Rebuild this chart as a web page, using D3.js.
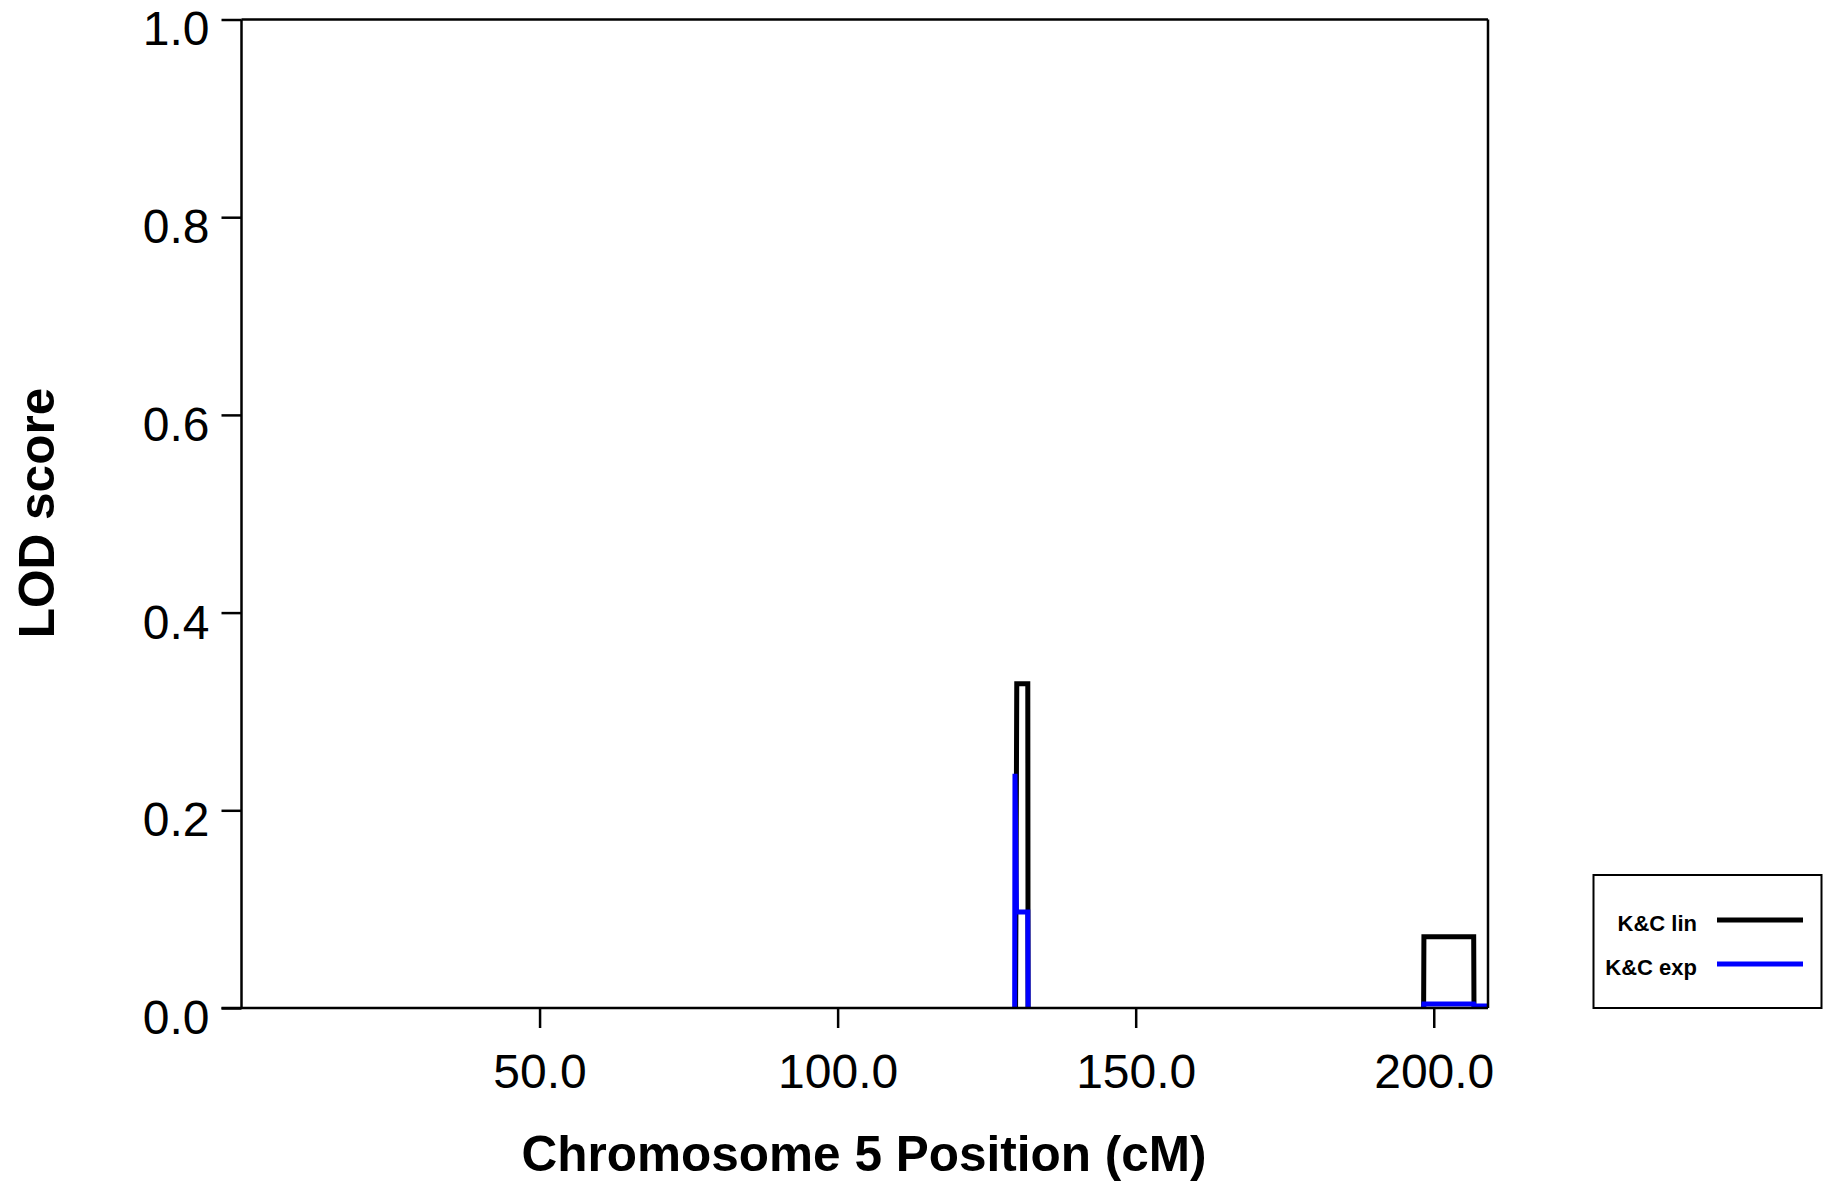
<!DOCTYPE html>
<html><head><meta charset="utf-8">
<script src="https://cdn.jsdelivr.net/npm/d3@7"></script>
<style>body{margin:0;background:#fff}svg{display:block}text{font-family:"Liberation Sans",Arial,sans-serif}</style>
</head><body>
<script>
// Data
const xTicks = [50, 100, 150, 200];
const yTicks = [0, 0.2, 0.4, 0.6, 0.8, 1.0];
const seriesNames = ["K&C lin", "K&C exp"];
const seriesColors = ["#000000", "#0000ff"];
const linPos = [0, 129.85, 130.05, 131.9, 131.95, 198.3, 198.35, 206.7, 206.75, 209.1];
const linLod = [0, 0, 0.328, 0.328, 0, 0, 0.072, 0.072, 0, 0];
const expPos = [0, 129.7, 129.75, 130.0, 131.9, 131.95, 198.3, 198.35, 206.7, 206.8, 209.1];
const expLod = [0, 0, 0.237, 0.097, 0.097, 0, 0, 0.004, 0.004, 0.002, 0.002];

const W = 1830, H = 1184;
const L = 241.5, R = 1488, T = 19.5, B = 1008;
const x = d3.scaleLinear().domain([0, 209.1]).range([L, R]);
const y = d3.scaleLinear().domain([0, 1]).range([B, T]);

const svg = d3.select("body").append("svg").attr("width", W).attr("height", H);

const line = d3.line().x(d => x(d[0])).y(d => y(d[1]));
// split each series into runs, skipping flat segments lying on the zero baseline (hidden by the axis)
function runs(pos, lod) {
  const out = []; let cur = null;
  for (let i = 0; i < pos.length - 1; i++) {
    const flatZero = lod[i] === 0 && lod[i + 1] === 0;
    if (flatZero) { if (cur) { out.push(cur); cur = null; } continue; }
    if (!cur) cur = [[pos[i], lod[i]]];
    cur.push([pos[i + 1], lod[i + 1]]);
  }
  if (cur) out.push(cur);
  return out;
}
const series = [runs(linPos, linLod), runs(expPos, expLod)];
series.forEach((rs, i) => {
  rs.forEach(r => {
    svg.append("path").datum(r).attr("d", line)
      .attr("fill", "none").attr("stroke", seriesColors[i])
      .attr("stroke-width", 5).attr("stroke-linejoin", "miter");
  });
});

// frame
svg.append("line").attr("x1", L).attr("x2", R).attr("y1", T).attr("y2", T).attr("stroke", "#000").attr("stroke-width", 2.5);
svg.append("line").attr("x1", R).attr("x2", R).attr("y1", T).attr("y2", B).attr("stroke", "#000").attr("stroke-width", 2.5);

// axes
const yAxis = d3.axisLeft(y).tickValues(yTicks).tickFormat(d3.format(".1f")).tickSize(20).tickPadding(12);
const gy = svg.append("g").attr("transform", `translate(${L},0)`).call(yAxis);
gy.select(".domain").attr("stroke-width", 2.5).attr("d", `M0,${T}V${B}`);
gy.selectAll(".tick line").attr("stroke-width", 2.5);
gy.selectAll(".tick text").attr("font-size", 48).attr("dy", "0.53em").attr("y", 0).attr("fill", "#000");

const xAxis = d3.axisBottom(x).tickValues(xTicks).tickFormat(d3.format(".1f")).tickSize(20).tickPadding(26);
const gx = svg.append("g").attr("transform", `translate(0,${B})`).call(xAxis);
gx.select(".domain").attr("stroke-width", 2.5).attr("d", `M${L - 20},0H${R}`);
gx.selectAll(".tick line").attr("stroke-width", 2.5);
gx.selectAll(".tick text").attr("font-size", 48).attr("fill", "#000");

// titles
svg.append("text").attr("x", 864).attr("y", 1171).attr("text-anchor", "middle")
  .attr("font-size", 49.5).attr("font-weight", "bold").text("Chromosome 5 Position (cM)");
svg.append("text").attr("transform", "translate(54,513) rotate(-90)").attr("text-anchor", "middle")
  .attr("font-size", 49.5).attr("font-weight", "bold").text("LOD score");

// legend
svg.append("rect").attr("x", 1593.5).attr("y", 875).attr("width", 228).attr("height", 133)
  .attr("fill", "#fff").attr("stroke", "#000").attr("stroke-width", 2);
const ly = [920, 964];
seriesNames.forEach((n, i) => {
  svg.append("text").attr("x", 1697).attr("y", ly[i] + 11).attr("text-anchor", "end")
    .attr("font-size", 22).attr("font-weight", "bold").text(n);
  svg.append("line").attr("x1", 1717).attr("x2", 1803).attr("y1", ly[i]).attr("y2", ly[i])
    .attr("stroke", seriesColors[i]).attr("stroke-width", 5);
});
</script>
</body></html>
